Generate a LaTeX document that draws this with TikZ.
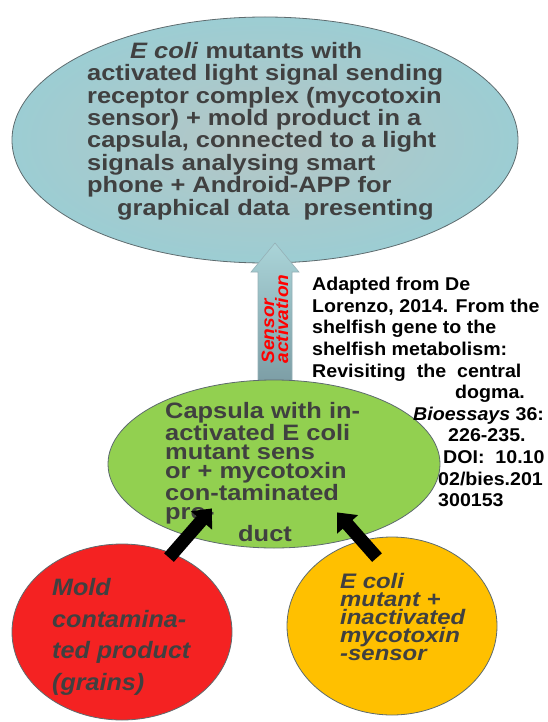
\documentclass[tikz,border=0pt]{standalone}
\usepackage{fontspec}
\setmainfont{Liberation Sans}[FakeStretch=1.06]
\newfontfamily\widesans{Liberation Sans}[FakeStretch=1.14]
\usetikzlibrary{shapes.geometric,arrows.meta,calc}
\definecolor{inktxt}{HTML}{404040}
\definecolor{edgegray}{HTML}{5E6B6E}
\definecolor{sinkin}{HTML}{B6C6C5}
\definecolor{sinkout}{HTML}{9CCDD3}
\definecolor{sigtop}{HTML}{AAD4D8}
\definecolor{sigbot}{HTML}{7B9CA4}
\definecolor{capsgreen}{HTML}{92D050}
\definecolor{moldred}{HTML}{F42222}
\definecolor{ecoliorange}{HTML}{FFC000}

\begin{document}
\begin{tikzpicture}[x=1pt,y=-1pt,
    blob/.style={ellipse,draw=edgegray,line width=0.8pt,inner sep=0pt},
    txt/.style={anchor=north west,align=left,inner sep=0pt,text=inktxt},
    push/.style={line width=13pt,-{Triangle[length=16pt,width=27pt]}}]
  \useasboundingbox (0,0) rectangle (547,722);
  % bubbles
  \node[blob,inner color=sinkin,outer color=sinkout,
        minimum width=506,minimum height=246] (Sink) at (265,140) {};
  \shade[top color=sigtop,bottom color=sigbot,draw=sigbot!80,line width=0.6pt]
    (258,387) -- (258,272) -- (251,272) -- (275,243) -- (299,272)
    -- (292,272) -- (292,387) -- cycle;
  \node[blob,fill=capsgreen,minimum width=332,minimum height=168] (Caps) at (274,464) {};
  \node[blob,fill=moldred,minimum width=220,minimum height=176] (Mold) at (122,632) {};
  \node[blob,fill=ecoliorange,minimum width=210,minimum height=178] (Ecoli) at (392,626) {};
  % texts
  \node[txt,font=\widesans\bfseries\fontsize{22.3}{22.4}\selectfont] (SinkTxt) at (87,42)
    {\hspace*{43pt}\textit{E coli} mutants with\\
     activated light signal sending\\
     receptor complex (mycotoxin\\
     sensor) + mold product in a\\
     capsula, connected to a light\\
     signals analysing smart\\
     phone + Android-APP for\\
     \hspace*{30pt}graphical data\ \ presenting};
  \node[rotate=90,align=left,inner sep=0pt,text=red,
        font=\bfseries\itshape\fontsize{18}{14}\selectfont] (SigTxt) at (275,319)
    {Sensor\\activation};
  \node[txt,text=black,font=\bfseries\fontsize{18.5}{21.6}\selectfont] (RefTxt) at (312,277)
    {Adapted from De\\
     Lorenzo, 2014. From the\\
     shelfish gene to the\\
     shelfish metabolism:\\
     Revisiting\ \ the\ \ central\\
     \hspace*{143pt}dogma.\\
     \hspace*{101pt}\textit{Bioessays} 36:\\
     \hspace*{136pt}226-235.\\
     \hspace*{131pt}DOI:\ \ 10.10\\
     \hspace*{126pt}02/bies.201\\
     \hspace*{126pt}300153};
  \node[txt,font=\widesans\bfseries\fontsize{22.3}{19.3}\selectfont] (CapsTxt) at (165,402)
    {Capsula with in-\\
     activated E coli\\
     mutant sens\\
     or + mycotoxin\\
     con-taminated\\
     pro-\\
     \hspace*{73pt}duct};
  \node[txt,font=\bfseries\itshape\fontsize{23.7}{31.7}\selectfont] (MoldTxt) at (52,578)
    {Mold\\
     contamina-\\
     ted product\\
     (grains)};
  \node[txt,font=\widesans\bfseries\itshape\fontsize{21}{18}\selectfont] (EcoliTxt) at (340,573)
    {E coli\\
     mutant +\\
     inactivated\\
     mycotoxin\\
     -sensor};
  % arrows
  \draw[push] ($(Mold.north)+(47,14)$) -- ($(Caps.south)+(-62,-40)$);
  \draw[push] ($(Ecoli.north)+(-15,21)$) -- ($(Caps.south)+(63,-36)$);
\end{tikzpicture}
\end{document}
